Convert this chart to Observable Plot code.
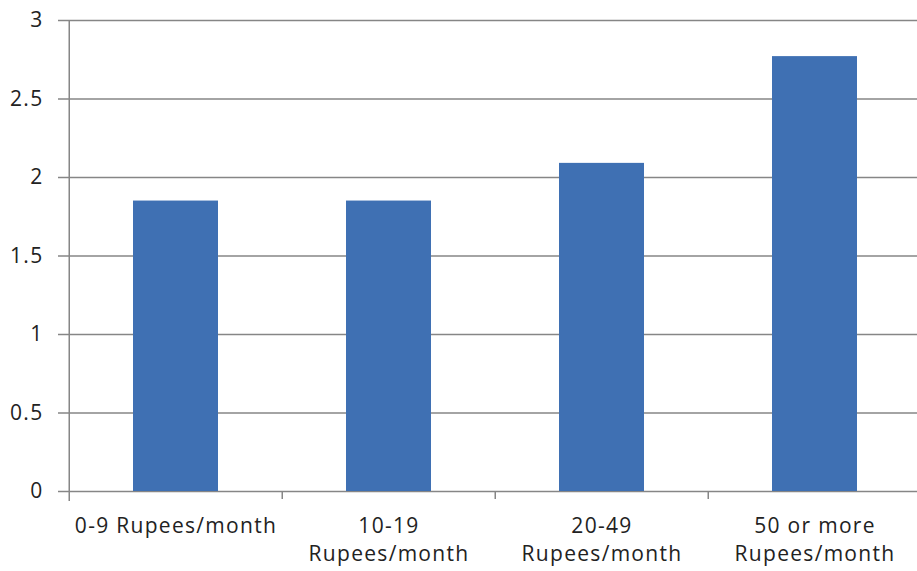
<!DOCTYPE html>
<html>
<head>
<meta charset="utf-8">
<script src="https://cdn.jsdelivr.net/npm/d3@7"></script>
<script src="https://cdn.jsdelivr.net/npm/@observablehq/plot@0.6"></script>
<style>
  html, body { margin: 0; padding: 0; background: #fff; }
</style>
</head>
<body>
<div id="chart"></div>
<script>
const categories = ["0-9 Rupees/month", "10-19 Rupees/month", "20-49 Rupees/month", "50 or more Rupees/month"];
const values = [1.85, 1.85, 2.09, 2.77];
const tickLabels = ["0-9 Rupees/month", "10-19\nRupees/month", "20-49\nRupees/month", "50 or more\nRupees/month"];
const yTicks = [0, 0.5, 1, 1.5, 2, 2.5, 3];

const data = categories.map((c, i) => ({cat: c, value: values[i]}));

const xRange = [68, 922];
const step = (xRange[1] - xRange[0]) / categories.length;
const gray = "#868686";

const chart = Plot.plot({
  width: 917,
  height: 571,
  marginLeft: 68,
  marginRight: 0,
  marginTop: 20,
  marginBottom: 80,
  style: {fontFamily: "'Open Sans', sans-serif", fontSize: "21px", color: "#222", letterSpacing: "1.3px", background: "#fff"},
  x: {domain: categories, range: xRange, paddingInner: 0.6, paddingOuter: 0.3, label: null},
  y: {domain: [0, 3], label: null},
  marks: [
    Plot.ruleY(yTicks, {stroke: gray, strokeWidth: 1.5}),
    Plot.barY(data, {x: "cat", y: "value", fill: "#3f70b3"}),
    Plot.ruleX([categories[0]], {x: d => d, dx: -step / 2, y1: 3, y2: 0, insetBottom: -10, stroke: gray, strokeWidth: 1.5}),
    Plot.ruleX(categories.slice(1), {x: d => d, dx: -step / 2, y1: 0, y2: 0, insetBottom: -8, stroke: gray, strokeWidth: 1.5}),
    Plot.axisY({ticks: yTicks, tickSize: 10, tickPadding: 15, tickFormat: d => String(d), stroke: gray, strokeWidth: 1.5, color: "#222", label: null}),
    Plot.axisX({tickSize: 0, tickPadding: 21, tickFormat: d => tickLabels[categories.indexOf(d)], lineHeight: 1.36, color: "#222", label: null})
  ]
});
document.getElementById("chart").appendChild(chart);
</script>
</body>
</html>
